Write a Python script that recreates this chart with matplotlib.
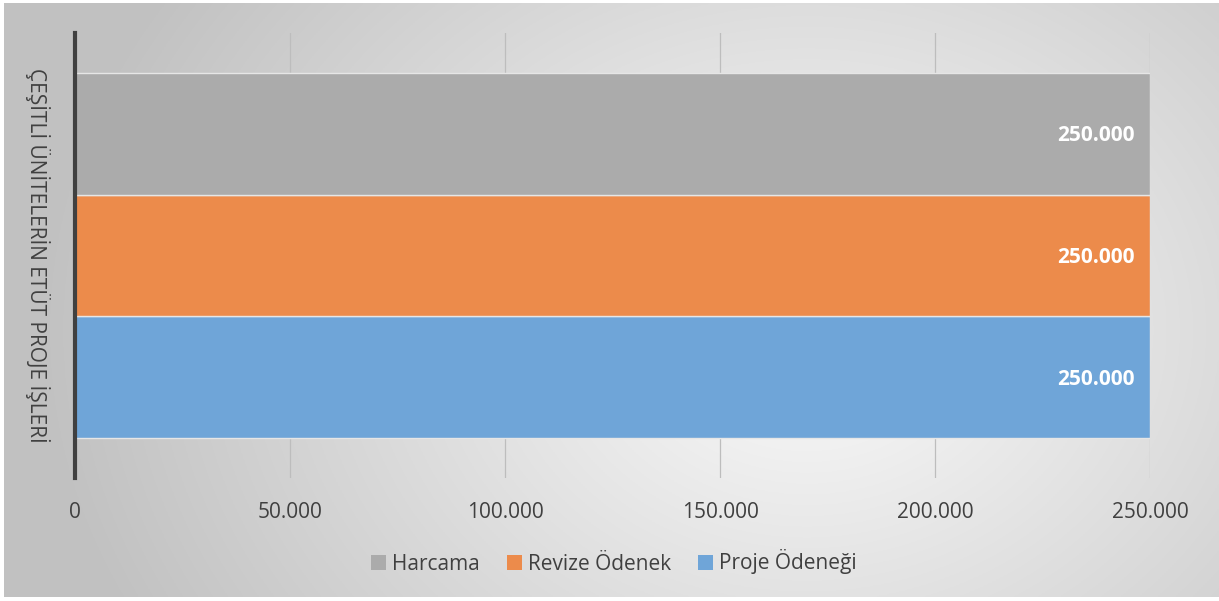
import numpy as np
import matplotlib
matplotlib.use("Agg")
import matplotlib.pyplot as plt
from matplotlib.patches import Patch

category = "ÇEŞİTLİ ÜNİTELERİN ETÜT PROJE İŞLERİ"
series = ["Proje Ödeneği", "Revize Ödenek", "Harcama"]
values = [250000, 250000, 250000]
colors = ["#6fa5d8", "#ec8b4b", "#ababab"]
xticks = [0, 50000, 100000, 150000, 200000, 250000]
xtick_labels = ["0", "50.000", "100.000", "150.000", "200.000", "250.000"]

plt.rcParams['font.family'] = ['Open Sans', 'DejaVu Sans']

W, H = 1219, 601
fig = plt.figure(figsize=(W / 100, H / 100), dpi=100)
fig.patch.set_facecolor("white")

# background gradient panel
bg = fig.add_axes([4 / W, 4 / H, 1 - 4 / W, 1 - 7 / H])
bg.set_axis_off()
ny, nx = 300, 600
yy, xx = np.mgrid[0:ny, 0:nx]
cx, cy = 0.66 * nx, 0.55 * ny
d = np.sqrt(((xx - cx) / nx) ** 2 + ((yy - cy) / ny * 0.6) ** 2)
val = 0.985 - 0.36 * d
val = np.clip(val, 0.76, 0.985)
img = np.dstack([val, val, val])
bg.imshow(img, aspect="auto", extent=[0, 1, 0, 1], origin="upper")
bg.set_xlim(0, 1)
bg.set_ylim(0, 1)

ax = fig.add_axes([75 / W, (H - 478) / H, (1150 - 75) / W, (478 - 33) / H])
ax.patch.set_alpha(0)

h = 0.274
positions = [-h, 0, h]
for pos, v, c, s in zip(positions, values, colors, series):
    ax.barh(pos, v, height=h, color=c, edgecolor="#e6e6e6", linewidth=1.0, label=s, zorder=3)
    ax.annotate(f"{v:,}".replace(",", "."), xy=(v, pos), xytext=(-11, -1.5),
                textcoords="offset points", ha="right", va="center",
                color="white", fontsize=15, fontweight="bold", zorder=4)

ax.set_xlim(0, 250000)
ax.set_ylim(-0.5, 0.5)
ax.set_xticks(xticks)
ax.set_xticklabels(xtick_labels, fontsize=15, color="#404040")
ax.tick_params(axis="x", length=0, pad=17)
ax.set_yticks([0])
ax.set_yticklabels([category], rotation=270, va="center", ha="center",
                   fontsize=15, color="#404040")
ax.tick_params(axis="y", length=0, pad=27)
ax.grid(axis="x", color="#bdbdbd", linewidth=0.9, zorder=0)
for sp in ["top", "right", "bottom"]:
    ax.spines[sp].set_visible(False)
ax.spines["left"].set_color("#404040")
ax.spines["left"].set_linewidth(3)
ax.spines["left"].set_zorder(5)

handles = [Patch(facecolor=c, edgecolor="none") for c in colors[::-1]]
fig.legend(handles, series[::-1], loc="center", bbox_to_anchor=(614 / W, 1 - 562 / H),
           ncol=3, frameon=False, fontsize=15, handlelength=0.7, handleheight=0.7,
           handletextpad=0.3, columnspacing=1.3, labelcolor="#404040")

fig.savefig("out.png", dpi=100)
